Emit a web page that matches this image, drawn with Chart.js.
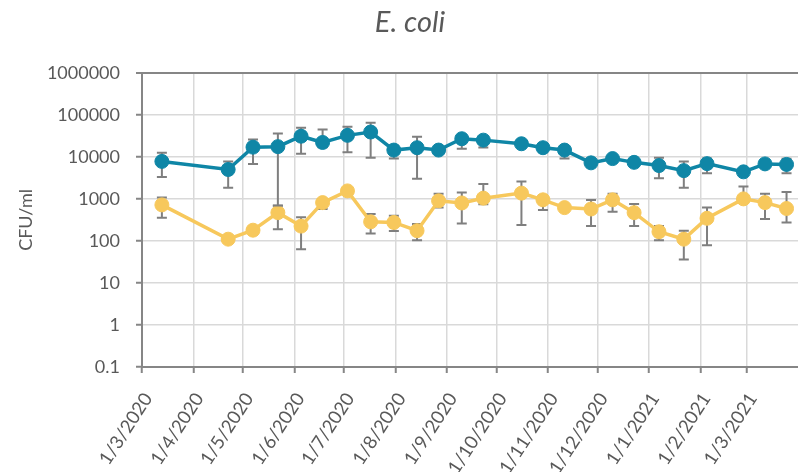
<!DOCTYPE html>
<html>
<head>
<meta charset="utf-8">
<script src="https://cdn.jsdelivr.net/npm/chart.js@4/dist/chart.umd.min.js"></script>
<style>
  html, body { margin: 0; padding: 0; background: #fff; overflow: hidden; }
  #wrap { width: 820px; height: 472px; }
</style>
</head>
<body>
<div id="wrap"><canvas id="chart"></canvas></div>
<script>
// sample dates
const sampleDates = ['2020-03-13','2020-04-22','2020-05-07','2020-05-22','2020-06-05','2020-06-18','2020-07-03',
  '2020-07-17','2020-07-31','2020-08-14','2020-08-27','2020-09-10','2020-09-23','2020-10-16','2020-10-29',
  '2020-11-11','2020-11-27','2020-12-10','2020-12-23','2021-01-07','2021-01-22','2021-02-05','2021-02-27',
  '2021-03-12','2021-03-25'];

// blue series (mean + error bar ends)
const blueValues = [7800, 5000, 17000, 17500, 31000, 22000, 32500, 39000, 14500, 16500, 14500, 27000, 25000,
  20500, 16500, 14500, 7200, 9100, 7400, 6200, 4700, 6900, 4400, 6800, 6600];
const blueHigh = [12500, 7800, 26000, 36000, 49500, 45000, 52000, 65000, 18700, 30000, null, 33000, 30000,
  null, null, 18000, null, null, null, 9500, 7800, 9100, null, null, 9000];
const blueLow = [3300, 1850, 6800, 700, 11800, 17000, 12900, 9500, 9100, 3000, null, 15500, 16800,
  null, null, 9100, null, null, null, 3100, 1850, 4100, null, null, 4100];

// yellow series
const yellowValues = [720, 110, 180, 470, 225, 815, 1550, 285, 275, 175, 900, 800, 1040, 1370, 950, 620, 575,
  950, 470, 165, 110, 345, 1000, 815, 590];
const yellowHigh = [1075, null, null, 690, 364, 1000, null, 437, 398, 252, 1320, 1415, 2250, 2600, 1200, null,
  946, 1320, 760, 225, 174, 620, 1970, 1320, 1450];
const yellowLow = [356, null, null, 190, 63, 575, null, 150, 171, 104, 620, 261, 750, 238, 545, null, 225, 496,
  225, 104, 36, 79, 800, 330, 276];

// axis ticks
const xTickDates = ['2020-03-01','2020-04-01','2020-05-01','2020-06-01','2020-07-01','2020-08-01','2020-09-01',
  '2020-10-01','2020-11-01','2020-12-01','2021-01-01','2021-02-01','2021-03-01'];
const xTickLabels = ['1/3/2020','1/4/2020','1/5/2020','1/6/2020','1/7/2020','1/8/2020','1/9/2020',
  '1/10/2020','1/11/2020','1/12/2020','1/1/2021','1/2/2021','1/3/2021'];
const yTickValues = [0.1, 1, 10, 100, 1000, 10000, 100000, 1000000];
const yTickLabels = ['0.1', '1', '10', '100', '1000', '10000', '100000', '1000000'];

const DAY0 = Date.parse('2020-03-01');
const toDay = s => (Date.parse(s) - DAY0) / 86400000;

const BLUE = '#0f86a6';
const YELLOW = '#f7c85c';
const TEXT = '#595959';
const AXIS = '#868686';
const GRID = '#d9d9d9';

// error bars, drawn just before each dataset so markers sit on top
const errorBars = {
  id: 'errorBars',
  beforeDatasetDraw(chart, args) {
    const ds = chart.data.datasets[args.index];
    if (!ds.errHigh) return;
    const { ctx, scales: { x, y } } = chart;
    ctx.save();
    ctx.strokeStyle = '#7f7f7f';
    ctx.lineWidth = 2;
    ds.data.forEach((p, i) => {
      const hi = ds.errHigh[i], lo = ds.errLow[i];
      if (hi == null && lo == null) return;
      const px = x.getPixelForValue(p.x);
      const top = y.getPixelForValue(hi != null ? hi : p.y);
      const bot = y.getPixelForValue(lo != null ? lo : p.y);
      ctx.beginPath();
      ctx.moveTo(px, top); ctx.lineTo(px, bot);
      if (hi != null) { ctx.moveTo(px - 5, top); ctx.lineTo(px + 5, top); }
      if (lo != null) { ctx.moveTo(px - 5, bot); ctx.lineTo(px + 5, bot); }
      ctx.stroke();
    });
    ctx.restore();
  }
};

function makeSeries(values) {
  return values.map((v, i) => ({ x: toDay(sampleDates[i]), y: v }));
}

const font = { family: 'Lato', size: 18 };

new Chart(document.getElementById('chart'), {
  type: 'line',
  data: {
    datasets: [{
      data: makeSeries(blueValues),
      errHigh: blueHigh,
      errLow: blueLow,
      borderColor: BLUE,
      backgroundColor: BLUE,
      borderWidth: 3.5,
      pointRadius: 7,
      pointBorderWidth: 1,
      pointBackgroundColor: BLUE,
      pointBorderColor: BLUE,
      tension: 0,
      clip: false
    }, {
      data: makeSeries(yellowValues),
      errHigh: yellowHigh,
      errLow: yellowLow,
      borderColor: YELLOW,
      backgroundColor: YELLOW,
      borderWidth: 3.5,
      pointRadius: 7,
      pointBorderWidth: 1,
      pointBackgroundColor: YELLOW,
      pointBorderColor: YELLOW,
      tension: 0,
      clip: false
    }]
  },
  options: {
    responsive: true,
    maintainAspectRatio: false,
    animation: false,
    events: [],
    layout: { padding: 0 },
    plugins: {
      legend: { display: false },
      tooltip: { enabled: false },
      title: {
        display: true,
        text: 'E. coli',
        color: TEXT,
        font: { family: 'Lato', size: 29, style: 'italic', weight: 'normal' },
        padding: { top: 5, bottom: 33 }
      }
    },
    scales: {
      x: {
        type: 'linear',
        min: 0,
        max: (820 - 142) / (612 / 365),
        afterBuildTicks: s => { s.ticks = xTickDates.map(d => ({ value: toDay(d) })); },
        afterFit: s => { s.height = 105; },
        ticks: {
          autoSkip: false,
          minRotation: 57,
          maxRotation: 57,
          padding: 16,
          labelOffset: 6,
          color: TEXT,
          font: { family: 'Lato', size: 18.5 },
          callback: (v, i) => xTickLabels[i]
        },
        grid: { color: GRID, lineWidth: 1.5, tickLength: 6, tickColor: AXIS, tickWidth: 2 },
        border: { color: AXIS, width: 2 }
      },
      y: {
        type: 'logarithmic',
        min: 0.1,
        max: 1000000,
        afterBuildTicks: s => { s.ticks = yTickValues.map(v => ({ value: v })); },
        afterFit: s => { s.width = 142; },
        ticks: {
          padding: 16,
          color: TEXT,
          font: font,
          callback: (v, i) => yTickLabels[i]
        },
        grid: {
          color: c => (c.tick && c.tick.value === 1000000 ? AXIS : GRID),
          lineWidth: c => (c.tick && c.tick.value === 1000000 ? 2 : 1.5),
          tickLength: 6,
          tickColor: AXIS,
          tickWidth: 2
        },
        border: { color: AXIS, width: 2 },
        title: {
          display: true,
          text: 'CFU/ml',
          color: TEXT,
          font: font,
          padding: { top: 15, bottom: 0 }
        }
      }
    }
  },
  plugins: [errorBars]
});
</script>
</body>
</html>
